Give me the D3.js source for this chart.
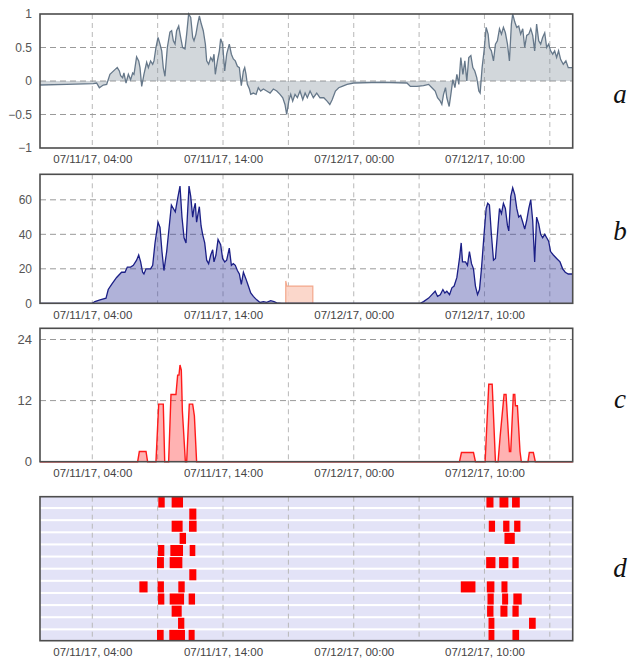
<!DOCTYPE html>
<html><head><meta charset="utf-8">
<script src="https://cdn.jsdelivr.net/npm/d3@7/dist/d3.min.js"></script>
<style>body{margin:0;background:#fff}svg{display:block}</style>
</head><body><svg id="c" width="639" height="662"></svg>
<script>
// ---------- DATA (hours since 07/11/17 00:00) ----------
const startTime = "2017-07-11T00:00";
const endHours = 40.75;
const gridTimes = ["2017-07-11T04:00","2017-07-11T09:00","2017-07-11T14:00","2017-07-11T19:00","2017-07-12T00:00","2017-07-12T05:00","2017-07-12T10:00","2017-07-12T15:00"];
const labelTimes = ["2017-07-11T04:00","2017-07-11T14:00","2017-07-12T00:00","2017-07-12T10:00"];

const ticksA = [-1,-0.5,0,0.5,1];
const ticksB = [0,20,40,60];
const ticksC = [0,12,24];
const panelNames = ["a","b","c","d"];

const seriesA = [[0,-0.06],[2.04,-0.05],[4.08,-0.04],[4.33,-0.03],[4.54,-0.1],[4.84,-0.06],[5.10,-0.05],[5.35,0.1],[5.73,0.17],[5.91,0.2],[6.07,0.15],[6.17,0.08],[6.32,0.05],[6.42,0.12],[6.58,-0.03],[6.76,0.1],[6.93,0.02],[7.09,0.12],[7.19,0.1],[7.39,0.36],[7.55,0.3],[7.65,0.2],[7.78,-0.08],[7.95,0.1],[8.16,0.28],[8.29,0.2],[8.46,0.3],[8.62,0.25],[8.72,0.3],[8.87,0.5],[9.03,0.65],[9.18,0.55],[9.31,0.45],[9.43,0.2],[9.56,0.07],[9.74,0.5],[9.94,0.73],[10.07,0.75],[10.20,0.6],[10.33,0.55],[10.45,0.75],[10.61,0.82],[10.76,0.65],[10.91,0.5],[11.09,0.48],[11.22,0.7],[11.37,1.0],[11.53,0.95],[11.68,0.65],[11.78,0.6],[11.93,0.7],[12.06,0.85],[12.19,0.97],[12.34,0.85],[12.49,0.75],[12.65,0.55],[12.75,0.3],[12.90,0.25],[13.06,0.35],[13.21,0.3],[13.31,0.4],[13.41,0.1],[13.57,0.3],[13.72,0.45],[13.82,0.63],[13.97,0.55],[14.13,0.15],[14.28,0.4],[14.48,0.55],[14.64,0.4],[14.79,0.33],[14.94,0.3],[15.10,0.22],[15.25,0.2],[15.40,-0.07],[15.56,0.15],[15.66,0.2],[15.76,0.1],[15.86,-0.05],[16.02,-0.12],[16.12,-0.2],[16.32,-0.18],[16.53,-0.2],[16.70,-0.1],[16.88,-0.15],[17.09,-0.12],[17.34,-0.15],[17.60,-0.18],[17.85,-0.12],[18.11,-0.15],[18.36,-0.2],[18.57,-0.25],[18.74,-0.35],[18.87,-0.5],[19.03,-0.3],[19.18,-0.2],[19.33,-0.3],[19.51,-0.2],[19.69,-0.25],[19.89,-0.15],[20.10,-0.28],[20.28,-0.18],[20.45,-0.25],[20.66,-0.15],[20.91,-0.25],[21.17,-0.18],[21.42,-0.25],[21.71,-0.25],[21.96,-0.3],[22.17,-0.35],[22.35,-0.28],[22.60,-0.15],[22.85,-0.1],[23.11,-0.08],[23.49,-0.05],[24.0,-0.03],[26.04,-0.02],[28.07,-0.03],[28.33,-0.08],[28.83,-0.08],[29.34,-0.07],[29.73,-0.05],[29.98,-0.1],[30.23,-0.15],[30.41,-0.25],[30.62,-0.3],[30.74,-0.35],[30.87,-0.2],[31.02,-0.1],[31.12,-0.25],[31.30,-0.38],[31.43,-0.2],[31.58,0.02],[31.74,-0.1],[31.89,0.1],[32.04,-0.05],[32.19,0.35],[32.35,0.1],[32.50,0.3],[32.65,0.0],[32.80,0.35],[32.96,0.38],[33.11,0.2],[33.26,0.15],[33.41,0.05],[33.57,-0.15],[33.67,-0.18],[33.82,0.2],[33.97,0.45],[34.13,0.8],[34.28,0.7],[34.38,0.5],[34.53,0.45],[34.69,0.3],[34.84,0.55],[34.99,0.6],[35.15,0.78],[35.30,0.7],[35.45,0.8],[35.60,0.72],[35.76,0.55],[35.91,0.3],[36.06,0.85],[36.16,1.0],[36.32,0.88],[36.47,0.8],[36.62,0.82],[36.77,0.7],[36.93,0.78],[37.08,0.5],[37.23,0.68],[37.39,0.7],[37.54,0.78],[37.69,0.68],[37.84,0.45],[37.99,0.85],[38.15,0.6],[38.30,0.55],[38.45,0.65],[38.61,0.72],[38.76,0.5],[38.91,0.55],[39.06,0.45],[39.22,0.4],[39.37,0.45],[39.52,0.35],[39.67,0.45],[39.83,0.32],[40.03,0.25],[40.23,0.3],[40.41,0.2],[40.75,0.2]];

const seriesB = [[0,0],[4.0,0],[4.20,1],[4.59,2],[5.05,3],[5.22,8],[5.48,11],[5.86,15],[6.24,18],[6.50,18],[6.68,21],[6.93,21],[7.14,22],[7.39,25],[7.55,28],[7.70,24],[7.85,18],[7.95,17],[8.11,20],[8.29,20],[8.46,20],[8.62,22],[8.80,35],[9.03,47],[9.18,44],[9.33,30],[9.48,19],[9.69,30],[9.89,45],[10.05,57],[10.20,55],[10.35,53],[10.51,60],[10.71,68],[10.86,50],[11.02,38],[11.17,35],[11.27,50],[11.40,68],[11.53,62],[11.68,50],[11.78,55],[11.88,58],[11.98,47],[12.09,52],[12.19,56],[12.32,45],[12.44,40],[12.60,35],[12.75,25],[12.90,23],[13.06,28],[13.21,31],[13.31,24],[13.46,28],[13.62,37],[13.82,34],[13.97,26],[14.13,24],[14.28,25],[14.48,32],[14.64,22],[14.79,23],[14.94,22],[15.10,19],[15.25,17],[15.40,11],[15.56,18],[15.76,14],[15.94,10],[16.12,6],[16.32,4],[16.58,2],[16.83,0.5],[17.09,1],[17.34,0.5],[17.65,1.5],[17.90,1],[18.11,0.3],[18.49,0],[29.09,0],[29.34,1],[29.73,3],[29.98,5],[30.23,7],[30.41,4],[30.62,5],[30.82,8],[30.97,6],[31.12,7],[31.33,5],[31.51,9],[31.68,10],[31.89,15],[32.09,26],[32.22,35],[32.32,24],[32.45,24],[32.55,24],[32.70,22],[32.85,30],[33.01,23],[33.16,20],[33.31,10],[33.47,5],[33.62,8],[33.77,20],[33.97,40],[34.13,55],[34.25,58],[34.38,57],[34.53,40],[34.69,25],[34.84,26],[34.99,40],[35.15,55],[35.30,52],[35.45,58],[35.60,55],[35.76,45],[35.86,42],[36.01,62],[36.16,67],[36.32,63],[36.47,55],[36.62,50],[36.77,51],[36.93,47],[37.08,43],[37.23,48],[37.39,55],[37.54,60],[37.69,48],[37.84,24],[37.99,50],[38.15,46],[38.30,40],[38.45,38],[38.61,40],[38.76,38],[38.91,36],[39.06,30],[39.27,28],[39.52,26],[39.78,24],[39.98,20],[40.18,18],[40.41,17],[40.75,17]];

const seriesB2 = [[18.80,0],[18.80,13],[18.88,10],[20.87,10],[20.87,0]];

const seriesC = [[0,0],[7.47,0],[7.60,2],[8.11,2],[8.23,0],[8.87,0],[9.08,11.3],[9.43,11.3],[9.54,0],[9.84,0],[10.02,13.2],[10.40,13.2],[10.53,17],[10.63,17],[10.71,19],[10.81,18],[10.89,10],[10.96,7],[11.12,0],[11.22,0],[11.42,11.3],[11.68,11.3],[11.81,9],[11.98,0],[32.09,0],[32.24,1.8],[33.16,1.8],[33.31,0],[34.05,0],[34.33,15.2],[34.59,15.2],[34.84,0],[35.04,0],[35.20,5],[35.50,13.2],[35.65,13.2],[35.91,2],[36.01,2],[36.21,13.2],[36.32,13.2],[36.37,11],[36.52,11],[36.72,2],[36.82,0],[37.33,0],[37.43,1.8],[37.74,1.8],[37.89,0],[40.75,0]];

// [row, startHour, endHour]
const blocksD = [
 [0,9.05,9.54],[0,10.07,10.94],[1,11.42,11.96],[2,10.07,10.91],[2,11.40,11.98],[3,10.68,11.17],
 [4,9.03,9.51],[4,9.97,10.94],[4,11.45,11.88],[5,8.95,9.48],[5,9.92,10.89],[6,11.42,11.96],
 [7,7.60,8.23],[7,9.00,9.48],[7,10.58,11.07],[8,9.03,9.51],[8,9.92,11.02],[8,11.37,11.86],
 [9,10.07,10.84],[10,10.56,11.04],[11,8.95,9.46],[11,9.89,11.09],[11,11.37,11.83],
 [0,34.15,34.69],[0,35.15,35.83],[0,36.11,36.70],[2,34.33,34.81],[2,35.43,35.91],[2,36.27,36.75],
 [3,35.53,36.32],[5,34.13,34.84],[5,35.12,35.83],[5,36.14,36.62],[7,32.19,33.31],[7,34.18,34.76],
 [7,35.30,35.76],[8,34.23,34.71],[8,35.35,35.81],[8,36.21,36.85],[9,34.20,34.69],[9,35.22,35.76],
 [9,36.14,36.62],[10,34.31,34.76],[10,37.41,37.92],[11,34.31,34.76],[11,36.14,36.65]
];
const rowsD = d3.range(12);

// ---------- RENDER ----------
const parse = d3.timeParse("%Y-%m-%dT%H:%M");
const t0 = parse(startTime);
const hToDate = h => new Date(t0.getTime() + h * 3600e3);
const fmt = d3.timeFormat("%m/%d/%y, %H:%M");
const svg = d3.select("#c");
const L = 40, R = 572.7;
const x = d3.scaleTime().domain([t0, hToDate(endHours)]).range([L, R]);
const FONT = "'Liberation Sans', Arial, sans-serif";

const panels = [
  {top:14, bottom:148, dom:[-1,1], ticks:ticksA, labelY:103},
  {top:174.3, bottom:303.3, dom:[0,74.8], ticks:ticksB, labelY:240},
  {top:328.3, bottom:461.7, dom:[0,26.2], ticks:ticksC, labelY:408},
  {top:496.7, bottom:640.7, dom:null, ticks:[], labelY:577}
];

function frameAndAxes(p, g) {
  // x labels
  const ax = d3.axisBottom(x).tickValues(labelTimes.map(parse)).tickFormat(fmt).tickSize(0).tickPadding(0);
  const ga = g.append("g").attr("transform", `translate(0,${p.bottom + 5})`).call(ax);
  ga.select(".domain").remove();
  ga.selectAll("text").attr("font-family", FONT).attr("font-size", "11.5px").attr("fill", "#444").attr("dy", "0.9em");
}

function vgrid(p, g) {
  g.append("g").selectAll("line").data(gridTimes.map(parse)).join("line")
    .attr("x1", d => x(d)).attr("x2", d => x(d)).attr("y1", p.top).attr("y2", p.bottom)
    .attr("stroke", "#b8b8b8").attr("stroke-width", 1).attr("stroke-dasharray", "5,4");
}

function hgridAndY(p, g, y, size) {
  g.append("g").selectAll("line").data(p.ticks.filter(t => y(t) > p.top + 2 && y(t) < p.bottom - 2)).join("line")
    .attr("x1", L).attr("x2", R).attr("y1", d => y(d)).attr("y2", d => y(d))
    .attr("stroke", "#9a9a9a").attr("stroke-width", 1).attr("stroke-dasharray", "6,4");
  const ay = d3.axisLeft(y).tickValues(p.ticks).tickSize(0).tickPadding(0).tickFormat(d3.format("~g"));
  const gy = g.append("g").attr("transform", `translate(${L - 8},0)`).call(ay);
  gy.select(".domain").remove();
  gy.selectAll("text").attr("font-family", FONT).attr("font-size", size).attr("fill", "#555");
}

function frame(p, g) {
  g.append("rect").attr("x", L).attr("y", p.top).attr("width", R - L).attr("height", p.bottom - p.top)
    .attr("fill", "none").attr("stroke", "#4d4d4d").attr("stroke-width", 1.6);
}

const parseSeries = s => s.map(d => ({t: hToDate(d[0]), v: d[1]}));

// Panel a
{
  const p = panels[0], g = svg.append("g");
  const y = d3.scaleLinear().domain(p.dom).range([p.bottom, p.top]);
  vgrid(p, g); hgridAndY(p, g, y, "12px");
  const data = parseSeries(seriesA);
  g.append("path").datum(data).attr("d", d3.area().x(d => x(d.t)).y0(y(0)).y1(d => y(d.v)))
    .attr("fill", "#7f8c99").attr("fill-opacity", 0.35);
  g.append("path").datum(data).attr("d", d3.line().x(d => x(d.t)).y(d => y(d.v)))
    .attr("fill", "none").attr("stroke", "#66788a").attr("stroke-width", 1.3);
  frame(p, g); frameAndAxes(p, g);
}
// Panel b
{
  const p = panels[1], g = svg.append("g");
  const y = d3.scaleLinear().domain(p.dom).range([p.bottom, p.top]);
  vgrid(p, g); hgridAndY(p, g, y, "12px");
  const d2 = parseSeries(seriesB2);
  g.append("path").datum(d2).attr("d", d3.area().x(d => x(d.t)).y0(y(0)).y1(d => y(d.v)))
    .attr("fill", "#fbd3c5").attr("fill-opacity", 0.9);
  g.append("path").datum(d2).attr("d", d3.line().x(d => x(d.t)).y(d => y(d.v)))
    .attr("fill", "none").attr("stroke", "#f3a88c").attr("stroke-width", 1.2);
  const data = parseSeries(seriesB);
  g.append("path").datum(data).attr("d", d3.area().x(d => x(d.t)).y0(y(0)).y1(d => y(d.v)))
    .attr("fill", "#3a3fa0").attr("fill-opacity", 0.4);
  g.append("path").datum(data).attr("d", d3.line().x(d => x(d.t)).y(d => y(d.v)))
    .attr("fill", "none").attr("stroke", "#1b1f86").attr("stroke-width", 1.3);
  frame(p, g); frameAndAxes(p, g);
}
// Panel c
{
  const p = panels[2], g = svg.append("g");
  const y = d3.scaleLinear().domain(p.dom).range([p.bottom, p.top]);
  vgrid(p, g); hgridAndY(p, g, y, "13px");
  const data = parseSeries(seriesC);
  g.append("path").datum(data).attr("d", d3.area().x(d => x(d.t)).y0(y(0)).y1(d => y(d.v)))
    .attr("fill", "#ff0000").attr("fill-opacity", 0.3);
  g.append("path").datum(data).attr("d", d3.line().x(d => x(d.t)).y(d => y(d.v)))
    .attr("fill", "none").attr("stroke", "#ff1a1a").attr("stroke-width", 1.4);
  frame(p, g); frameAndAxes(p, g);
}
// Panel d
{
  const p = panels[3], g = svg.append("g");
  const yb = d3.scaleBand().domain(rowsD).range([p.top, p.bottom]).paddingInner(0.17).paddingOuter(0.02);
  g.append("rect").attr("x", L).attr("y", p.top).attr("width", R - L).attr("height", p.bottom - p.top).attr("fill", "#fff");
  g.append("g").selectAll("rect").data(rowsD).join("rect")
    .attr("x", L).attr("width", R - L).attr("y", d => yb(d)).attr("height", yb.bandwidth()).attr("fill", "#e3e3f7");
  vgrid(p, g);
  g.append("g").selectAll("rect").data(blocksD).join("rect")
    .attr("x", d => x(hToDate(d[1]))).attr("width", d => x(hToDate(d[2])) - x(hToDate(d[1])))
    .attr("y", d => yb(d[0]) - 0.5).attr("height", yb.bandwidth() + 1).attr("fill", "#ff0000");
  frame(p, g); frameAndAxes(p, g);
}
// panel letters
svg.append("g").selectAll("text").data(panelNames).join("text")
  .attr("x", 620).attr("y", (d, i) => panels[i].labelY).attr("text-anchor", "middle")
  .attr("font-family", "'Liberation Serif', 'Times New Roman', serif").attr("font-style", "italic")
  .attr("font-size", "27px").attr("fill", "#111").text(d => d);
</script></body></html>
